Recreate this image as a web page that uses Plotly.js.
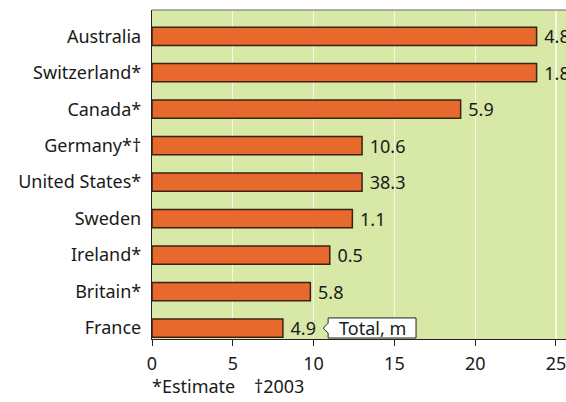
<!DOCTYPE html>
<html>
<head>
<meta charset="utf-8">
<script src="https://cdn.plot.ly/plotly-3.0.1.min.js"></script>
<style>html,body{margin:0;padding:0;background:#fff;}#chart{width:566px;height:402px;}</style>
</head>
<body>
<div id="chart"></div>
<script>
// Data (top to bottom as shown)
var countries = ["Australia", "Switzerland*", "Canada*", "Germany*†", "United States*", "Sweden", "Ireland*", "Britain*", "France"];
var barValues = [23.8, 23.8, 19.1, 13.0, 13.0, 12.4, 11.0, 9.8, 8.1];
var totalLabels = ["4.8", "1.8", "5.9", "10.6", "38.3", "1.1", "0.5", "5.8", "4.9"];
var xTicks = [0, 5, 10, 15, 20, 25];

var font = "Noto Sans, Open Sans, sans-serif";
var fs = 18;

// plot bottom-up so France is at the bottom
var yCats = countries.slice().reverse();
var xVals = barValues.slice().reverse();
var txt = totalLabels.slice().reverse();

var trace = {
  type: "bar",
  orientation: "h",
  y: yCats,
  x: xVals,
  text: txt,
  texttemplate: " %{text}",
  textposition: "outside",
  constraintext: "none",
  cliponaxis: true,
  textfont: {family: font, size: fs, color: "#1a1a1a"},
  width: 0.5,
  marker: {color: "#e8692e", line: {color: "#3a2313", width: 1.5}},
  hoverinfo: "none"
};

var layout = {
  width: 566, height: 402,
  margin: {l: 152, r: 0, t: 10, b: 63, pad: 0},
  paper_bgcolor: "#ffffff",
  plot_bgcolor: "#d8e8a6",
  showlegend: false,
  font: {family: font, size: fs, color: "#1a1a1a"},
  xaxis: {
    range: [0, 25.62],
    tickvals: xTicks,
    ticktext: xTicks.map(String),
    ticks: "outside", ticklen: 6, tickwidth: 1, tickcolor: "#222",
    ticklabeloverflow: "allow",
    ticklabelstandoff: 2,
    showline: true, linecolor: "#222", linewidth: 1.2,
    showgrid: true, gridcolor: "#f4f8e8", gridwidth: 1.2,
    zeroline: false,
    tickfont: {family: font, size: fs, color: "#1a1a1a"},
    fixedrange: true
  },
  yaxis: {
    type: "category",
    categoryorder: "array", categoryarray: yCats,
    range: [-0.3, 8.72],
    ticks: "", showline: true, linecolor: "#222", linewidth: 1.2,
    showgrid: false, zeroline: false,
    ticklabelstandoff: 6,
    tickfont: {family: font, size: fs, color: "#1a1a1a"},
    fixedrange: true
  },
  shapes: [
    {type: "line", xref: "paper", yref: "paper", x0: 0, x1: 1, y0: 1, y1: 1,
     line: {color: "#666", width: 1}},
    {type: "path", xref: "x", yref: "paper",
     path: "M 10.9 0.003 L 10.9 0.018 L 10.6 0.033 L 10.9 0.048 L 10.9 0.064 L 16.34 0.064 L 16.34 0.003 Z",
     fillcolor: "#ffffff", line: {color: "#222", width: 1}}
  ],
  annotations: [
    {xref: "x", yref: "paper", x: 13.62, y: 0.033, xanchor: "center", yanchor: "middle",
     text: "Total, m", showarrow: false, font: {family: font, size: fs, color: "#1a1a1a"}},
    {xref: "paper", yref: "paper", x: 0, y: -0.143, xanchor: "left", yanchor: "middle",
     xshift: -2,
     text: "*Estimate    †2003", showarrow: false, font: {family: font, size: fs, color: "#1a1a1a"}}
  ]
};

Plotly.newPlot("chart", [trace], layout, {displayModeBar: false, staticPlot: true});
</script>
</body>
</html>
